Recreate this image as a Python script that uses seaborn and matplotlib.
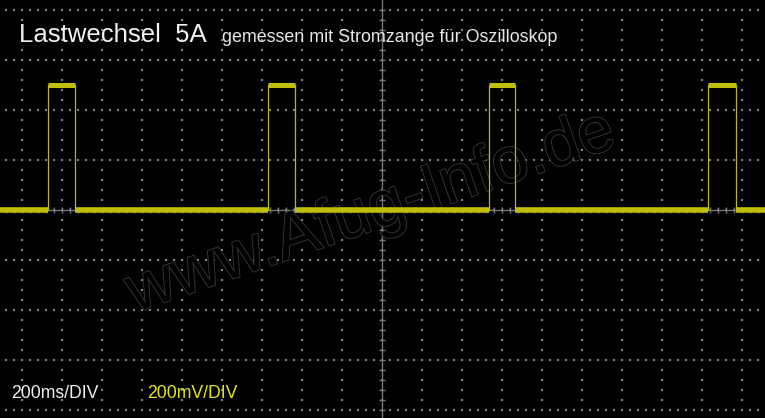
import numpy as np
import pandas as pd
import matplotlib
matplotlib.use("Agg")
import matplotlib.pyplot as plt
import matplotlib.patheffects as pe
from matplotlib.ticker import MultipleLocator
import seaborn as sns

# pulse edges (ms, relative to screen centre) and levels (mV)
rise_ms = [-1670, -568, 533, 1632]
fall_ms = [-1534, -434, 667, 1772]
low_mv = 0
high_mv = 500

# visible screen window
x_lim = (-1910, 1915)
y_lim = (-834, 838)

title = "Lastwechsel  5A"
subtitle = "gemessen mit Stromzange für Oszilloskop"
time_label = "200ms/DIV"
volt_label = "200mV/DIV"
watermark = "www.Afug-Info.de"

# step trace vertices
xs, ys = [x_lim[0]], [low_mv]
for r, f in zip(rise_ms, fall_ms):
    xs += [r, r, f, f]
    ys += [low_mv, high_mv, high_mv, low_mv]
xs.append(x_lim[1])
ys.append(low_mv)
trace = pd.DataFrame({"t_ms": xs, "mv": ys})

sns.set_style("dark", {"axes.facecolor": "black", "figure.facecolor": "black"})
plt.rcParams["font.family"] = ["Liberation Sans", "DejaVu Sans"]

fig = plt.figure(figsize=(7.65, 4.18), dpi=100)
ax = fig.add_axes([0, 0, 1, 1])
ax.set_facecolor("black")
ax.set_xlim(*x_lim)
ax.set_ylim(*y_lim)

# dotted graticule
grid_x = np.arange(-1800, 1801, 200)
grid_y = np.arange(-800, 801, 200)
dots_x = np.arange(-1880, 1915, 40)
dots_y = np.arange(-800, 801, 40)
hx, hy = np.meshgrid(dots_x, grid_y)
vx, vy = np.meshgrid(grid_x, dots_y)
dot_kw = dict(marker="s", s=0.9, color="#858585", linewidths=0, zorder=1)
ax.scatter(hx.ravel(), hy.ravel(), **dot_kw)
ax.scatter(vx.ravel(), vy.ravel(), **dot_kw)

# centre axes with minor ticks
for side in ["top", "right"]:
    ax.spines[side].set_visible(False)
for side in ["left", "bottom"]:
    ax.spines[side].set_position(("data", 0))
    ax.spines[side].set_color("#777777")
    ax.spines[side].set_linewidth(1.0)
    ax.spines[side].set_zorder(2)
ax.xaxis.set_major_locator(MultipleLocator(200))
ax.xaxis.set_minor_locator(MultipleLocator(40))
ax.yaxis.set_major_locator(MultipleLocator(200))
ax.yaxis.set_minor_locator(MultipleLocator(40))
ax.tick_params(which="both", direction="inout", length=5, width=1,
               color="#777777", bottom=True, left=True,
               labelbottom=False, labelleft=False)
ax.grid(False)

# watermark
ax.text(0.4850, 0.4900, watermark, transform=ax.transAxes, fontsize=47,
        rotation=19, rotation_mode="anchor", ha="center", va="center",
        color="black", zorder=3,
        path_effects=[pe.withStroke(linewidth=1.3, foreground="#363636")])

# trace: thin edges + thick noisy levels
sns.lineplot(data=trace, x="t_ms", y="mv", sort=False, estimator=None,
             color="#b4b43a", linewidth=0.9, ax=ax, legend=False, zorder=4)
low_starts = [x_lim[0]] + fall_ms
low_ends = rise_ms + [x_lim[1]]
ax.hlines([low_mv] * len(low_starts), low_starts, low_ends,
          color="#bfbf08", linewidth=4, zorder=5)
ax.hlines([high_mv] * len(rise_ms), rise_ms, fall_ms,
          color="#bfbf08", linewidth=3.6, zorder=5)
ax.set_xlabel("")
ax.set_ylabel("")

W, H = 765, 418
fig.text(19 / W, 1 - 42 / H, title, fontsize=18.5, color="#f2f2f2", va="baseline")
fig.text(222 / W, 1 - 42 / H, subtitle, fontsize=12.9, color="#e8e8e8", va="baseline")
fig.text(11.5 / W, 1 - 398 / H, time_label, fontsize=12.7, color="#f0f0f0", va="baseline")
fig.text(147 / W, 1 - 398 / H, volt_label, fontsize=12.7, color="#e4e41e", va="baseline")

fig.savefig("out.png", dpi=100, facecolor="black")
